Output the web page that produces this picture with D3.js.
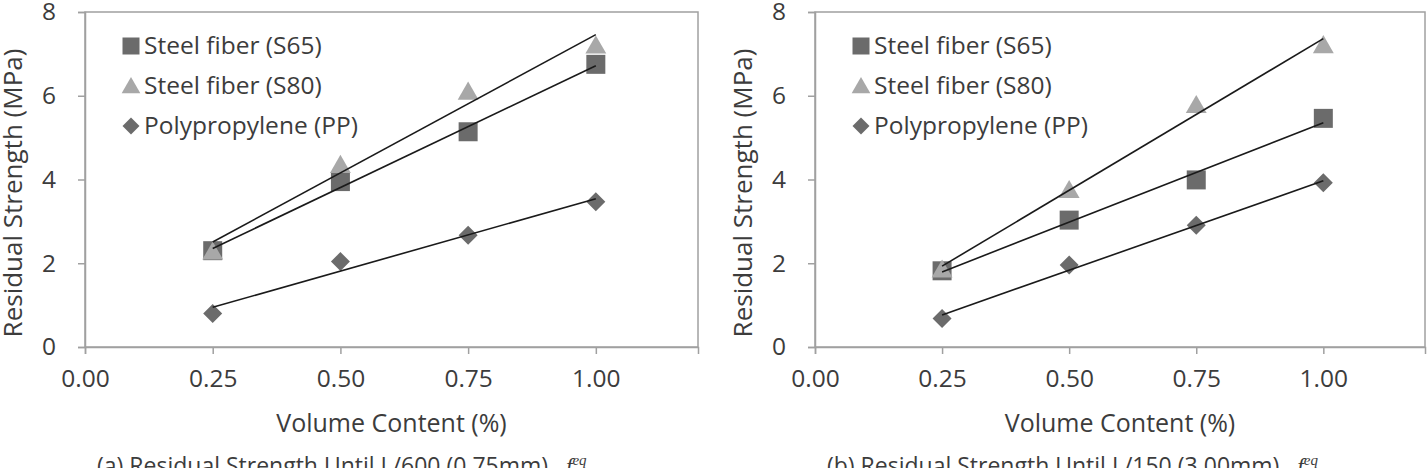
<!DOCTYPE html>
<html lang="en">
  <head>
    <meta charset="UTF-8" />
    <title>residual strength</title>
    <style>
      body { margin: 0; background: #fff; }
      text { font-family: 'Open Sans', sans-serif; fill: #3c3c3c; white-space: pre; }
    </style>
  </head>
  <body>
    <svg id="svg" width="1427" height="468"></svg>
    <script src="https://cdn.jsdelivr.net/npm/d3@7/dist/d3.min.js"></script>
    <script>
      // volume content (%) on the x axis
      const volumes = [0.25, 0.5, 0.75, 1.0]
      const xTicks = [0, 0.25, 0.5, 0.75, 1.0]
      const yTicks = [0, 2, 4, 6, 8]
      const seriesNames = ['Steel fiber (S65)', 'Steel fiber (S80)', 'Polypropylene (PP)']

      // (a) until L/600
      const s65A = [2.3, 3.95, 5.14, 6.75]
      const s80A = [2.28, 4.35, 6.1, 7.2]
      const ppA = [0.8, 2.04, 2.67, 3.47]
      // (b) until L/150
      const s65B = [1.82, 3.03, 3.99, 5.46]
      const s80B = [1.85, 3.75, 5.78, 7.21]
      const ppB = [0.68, 1.96, 2.91, 3.92]

      const titleA = '(a) Residual Strength Until L/600 (0.75mm)'
      const titleB = '(b) Residual Strength Until L/150 (3.00mm)'

      const svg = d3.select('#svg')
      const colors = ['#6b6b6b', '#a8a8a8', '#6b6b6b']
      const shapes = ['square', 'triangle', 'diamond']

      // least squares line, like the excel trendline
      function fit(xs, ys) {
        const mx = d3.mean(xs), my = d3.mean(ys)
        let sxy = 0, sxx = 0
        xs.forEach((x, i) => {
          sxy += (x - mx) * (ys[i] - my)
          sxx += (x - mx) * (x - mx)
        })
        const b = sxy / sxx
        return (x) => my + b * (x - mx)
      }

      function symbolPath(shape, size) {
        const r = size / 2
        if (shape === 'diamond') return `M0,${-r}L${r},0L0,${r}L${-r},0Z`
        if (shape === 'square') return `M${-r},${-r}H${r}V${r}H${-r}Z`
        return `M0,${-r * 1.05}L${r * 1.1},${r * 0.85}L${-r * 1.1},${r * 0.85}Z`
      }

      function drawPanel(left, right, series, title) {
        const top = 12, bottom = 347
        const x = d3.scaleLinear().domain([0, 1.2]).range([left, right])
        const y = d3.scaleLinear().domain([0, 8]).range([bottom, top])
        const g = svg.append('g')

        // plot box
        g.append('rect')
          .attr('x', left).attr('y', top)
          .attr('width', right - left).attr('height', bottom - top)
          .attr('fill', 'none').attr('stroke', '#a0a0a0').attr('stroke-width', 1.5)

        const yAxis = g.append('g')
          .attr('transform', `translate(${left},0)`)
          .call(d3.axisLeft(y).tickValues(yTicks).tickSize(7).tickPadding(22))
        const xAxis = g.append('g')
          .attr('transform', `translate(0,${bottom})`)
          .call(d3.axisBottom(x).tickValues(xTicks).tickSize(7).tickPadding(16).tickFormat(d3.format('.2f')))
        ;[xAxis, yAxis].forEach((ax) => {
          ax.select('.domain').attr('stroke', '#a0a0a0').attr('stroke-width', 1.5)
          ax.selectAll('.tick line').attr('stroke', '#a0a0a0').attr('stroke-width', 1.5)
          ax.selectAll('.tick text').attr('font-size', 24.5).attr('fill', '#3c3c3c')
            .attr('font-family', "'Open Sans', sans-serif")
        })

        // markers
        series.forEach((vals, si) => {
          g.append('g').selectAll('path')
            .data(vals)
            .enter()
            .append('path')
            .attr('d', symbolPath(shapes[si], 19))
            .attr('transform', (d, i) => `translate(${x(volumes[i])},${y(d)})`)
            .attr('fill', colors[si])
        })

        // trendlines on top
        series.forEach((vals) => {
          const f = fit(volumes, vals)
          const x0 = d3.min(volumes), x1 = d3.max(volumes)
          g.append('line')
            .attr('x1', x(x0)).attr('y1', y(f(x0)))
            .attr('x2', x(x1)).attr('y2', y(f(x1)))
            .attr('stroke', '#1a1a1a').attr('stroke-width', 1.6)
        })

        // legend
        const lg = g.append('g')
        seriesNames.forEach((name, i) => {
          const ly = 46 + i * 40
          lg.append('path')
            .attr('d', symbolPath(shapes[i], 17))
            .attr('transform', `translate(${left + 46},${ly})`)
            .attr('fill', colors[i])
          lg.append('text')
            .attr('x', left + 59).attr('y', ly + 8)
            .attr('font-size', 24.5)
            .text(name)
        })

        // axis titles
        g.append('text')
          .attr('x', (left + right) / 2).attr('y', 432)
          .attr('text-anchor', 'middle').attr('font-size', 25)
          .text('Volume Content (%)')
        g.append('text')
          .attr('transform', `translate(${left - 63},193) rotate(-90)`)
          .attr('text-anchor', 'middle').attr('font-size', 26)
          .text('Residual Strength (MPa)')

        // caption with f^eq
        const cap = g.append('text')
          .attr('x', left + 12).attr('y', 474)
          .attr('font-size', 23)
        cap.append('tspan').text(title + '   ')
        cap.append('tspan')
          .attr('font-family', "'Liberation Serif', serif").attr('font-style', 'italic')
          .text('f')
        cap.append('tspan')
          .attr('font-family', "'Liberation Serif', serif").attr('font-style', 'italic')
          .attr('font-size', 15).attr('dy', -9)
          .text('eq')
      }

      drawPanel(85, 698, [s65A, s80A, ppA], titleA)
      drawPanel(815, 1425, [s65B, s80B, ppB], titleB)
    </script>
  </body>
</html>
